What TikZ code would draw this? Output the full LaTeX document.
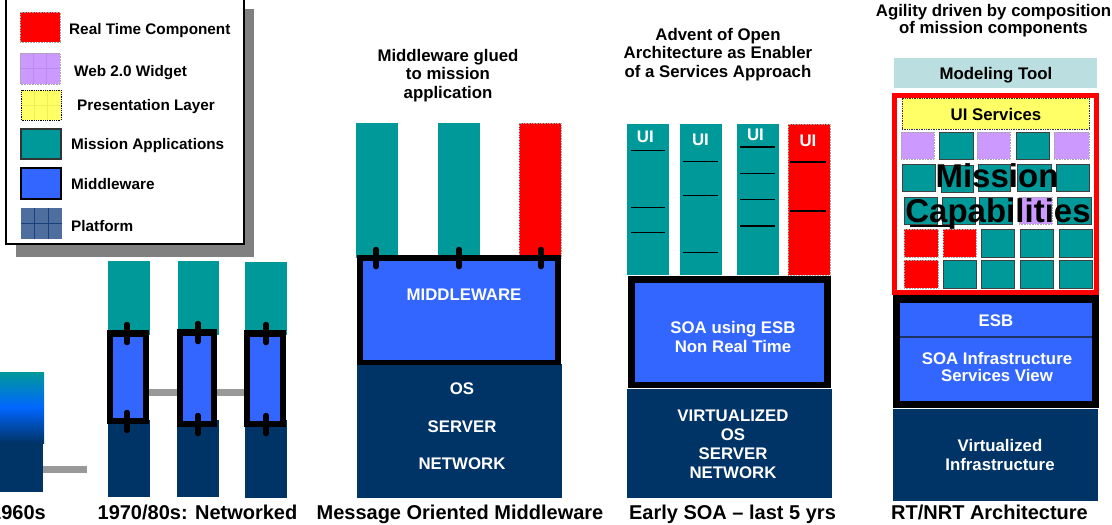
\documentclass[tikz,border=0pt]{standalone}
\usepackage{fontspec}
\setmainfont{Liberation Sans}
\definecolor{tealc}{HTML}{009999}
\definecolor{mwblue}{HTML}{3366FF}
\definecolor{brightblue}{HTML}{0066FF}
\definecolor{navyc}{HTML}{003366}
\definecolor{rtred}{HTML}{FF0000}
\definecolor{widget}{HTML}{CC99FF}
\definecolor{widgetline}{RGB}{186,140,240}
\definecolor{present}{HTML}{FFFF66}
\definecolor{presentline}{RGB}{238,238,90}
\definecolor{modtool}{HTML}{BBDFE1}
\definecolor{platc}{RGB}{78,110,158}
\definecolor{platline}{RGB}{25,65,125}
\definecolor{linkgray}{HTML}{999999}
\definecolor{shadowgray}{HTML}{808080}
\definecolor{esbline}{RGB}{30,50,100}

% box given by its corners: [style]{name}{x1}{y1}{x2}{y2}
\newcommand\areabox[6][]{%
  \node[inner sep=0pt, outer sep=0pt,
        minimum width={(#5-#3)*1pt}, minimum height={(#6-#4)*1pt}, #1]
        (#2) at ({(#3+#5)/2},{(#4+#6)/2}) {};}

\tikzset{
  lbl/.style={font=\fontsize{16.8}{18.7}\selectfont\bfseries, inner sep=0pt, anchor=base},
  wlbl/.style={lbl, text=white},
  era/.style={font=\fontsize{20}{22}\selectfont\bfseries, inner sep=0pt, anchor=base},
  legtxt/.style={font=\fontsize{15.3}{17}\selectfont\bfseries, inner sep=0pt, anchor=base west},
  bigtxt/.style={font=\fontsize{33}{36}\selectfont\bfseries, inner sep=0pt, anchor=base},
  app/.style={fill=tealc},
  rt/.style={fill=rtred, draw=gray!70, densely dotted, line width=0.6pt},
  wdg/.style={fill=widget, draw=gray!70, densely dotted, line width=0.6pt},
  cellapp/.style={fill=tealc, draw=black!75, line width=0.8pt},
  mwframe/.style={fill=black},
  mw/.style={fill=mwblue},
  plat/.style={fill=navyc},
  glue/.style={line width=5.5pt, line cap=round, black},
  link/.style={line width=7pt, linkgray},
  uiline/.style={line width=1.3pt, black},
}

\begin{document}
\begin{tikzpicture}[x=1pt,y=-1pt]
\useasboundingbox (0,0) rectangle (1112,525);

% ---------------- legend ----------------
\fill[shadowgray] (16,9) rectangle (254,257);
\areabox[fill=white, draw=black, line width=1.8pt]{legend}{6}{-3}{244}{244}
\areabox[rt]{lgrt}{20}{12}{60}{42}
\areabox[fill=widget]{lgwdg}{20}{53}{60}{84}
\draw[widgetline, line width=0.8pt] (33.3,53) -- (33.3,84) (46.7,53) -- (46.7,84) (20,68.5) -- (60,68.5);
\draw[gray!70, densely dotted, line width=0.6pt] (lgwdg.south west) rectangle (lgwdg.north east);
\areabox[fill=present]{lgpres}{21}{90}{61}{120}
\draw[presentline, line width=0.8pt] (34.3,90) -- (34.3,120) (47.7,90) -- (47.7,120) (21,105) -- (61,105);
\draw[black, densely dotted, line width=0.8pt] (lgpres.south west) rectangle (lgpres.north east);
\areabox[fill=tealc, draw=black!80, line width=1.2pt]{lgapp}{21}{129}{61}{159}
\areabox[fill=mwblue, draw=black, line width=1.6pt]{lgmw}{21}{168}{61}{199}
\areabox[fill=platc]{lgplat}{21}{208}{62}{239}
\draw[platline, line width=1pt] (34.7,208) -- (34.7,239) (48.3,208) -- (48.3,239) (21,223.5) -- (62,223.5);

\node[legtxt] (t-rt)   at (69,34.4)  {Real Time Component};
\node[legtxt] (t-wdg)  at (74,76.4)  {Web 2.0 Widget};
\node[legtxt] (t-pres) at (77,110.4) {Presentation Layer};
\node[legtxt] (t-app)  at (71,149.4) {Mission Applications};
\node[legtxt] (t-mw)   at (71,189.4) {Middleware};
\node[legtxt] (t-plat) at (71,231.4) {Platform};

% ---------------- 1960s ----------------
\areabox[top color=tealc, bottom color=navyc, middle color=brightblue]{m1960}{0}{372}{44}{443}
\areabox[plat]{p1960}{0}{443}{43}{492}
\coordinate (e1960) at (87,469.5);
\draw[link] (p1960.east |- e1960) -- (e1960);
\node[era, anchor=base east] (c1960) at (46,519.5) {1960s};

% ---------------- 1970/80s: networked ----------------
\areabox[app]{a1}{108}{261}{150}{335}
\areabox[app]{a2}{178}{261}{219}{335}
\areabox[app]{a3}{245}{262}{287}{335}
\areabox[plat]{p1}{108}{420}{150}{497}
\areabox[plat]{p2}{177}{420}{219}{497}
\areabox[plat]{p3}{245}{420}{287}{498}
\coordinate (lk) at (0,392.5);
\areabox[mwframe]{f1}{107}{330}{149}{424}
\areabox[mwframe]{f2}{177}{329}{217}{427}
\areabox[mwframe]{f3}{244}{330}{286}{427}
\draw[link] (f1.east |- lk) -- (f2.west |- lk);
\draw[link] (f2.east |- lk) -- (f3.west |- lk);
\areabox[mw]{m1}{113}{337}{143}{418}
\areabox[mw]{m2}{183}{336}{211}{421}
\areabox[mw]{m3}{250}{337}{280}{421}
\draw[glue] (127,324.5) -- (127,342.5) (127,412.5) -- (127,430.5);
\draw[glue] (198,323.5) -- (198,341.5) (198,415.5) -- (198,433.5);
\draw[glue] (266,324.5) -- (266,342.5) (266,415.5) -- (266,433.5);
\node[era] (c1970) at (197.5,519.5) {1970/80s: Networked};

% ---------------- message oriented middleware ----------------
\node[lbl] (mt1) at (448,61)   {Middleware glued};
\node[lbl] (mt2) at (448,79.5) {to mission};
\node[lbl] (mt3) at (448,98)   {application};
\areabox[app]{ma1}{356}{123}{398}{258}
\areabox[app]{ma2}{438}{123}{480}{258}
\areabox[rt]{ma3}{519}{123}{561}{258}
\areabox[plat]{mp}{357}{364}{562}{498}
\areabox[mwframe]{mf}{357}{255}{561}{365}
\areabox[mw]{mm}{363}{261}{555}{360}
\draw[glue] (376,249.5) -- (376,266.5) (459,249.5) -- (459,266.5) (541,249.5) -- (541,266.5);
\node[wlbl] (mmt) at (464,300) {MIDDLEWARE};
\node[wlbl] (mp1) at (462,394) {OS};
\node[wlbl] (mp2) at (462,432) {SERVER};
\node[wlbl] (mp3) at (462,469) {NETWORK};
\node[era] (cmom) at (460,519.5) {Message Oriented Middleware};

% ---------------- early SOA ----------------
\node[lbl] (st1) at (718,40)   {Advent of Open};
\node[lbl] (st2) at (718,58.7) {Architecture as Enabler};
\node[lbl] (st3) at (718,77.4) {of a Services Approach};
\areabox[app]{sa1}{627}{124}{669}{275}
\areabox[app]{sa2}{680}{124}{722}{275}
\areabox[app]{sa3}{737}{124}{779}{275}
\areabox[rt]{sa4}{788}{124}{830}{275}
\node[wlbl] (ui1) at (645.3,142.3) {UI};
\node[wlbl] (ui2) at (700.5,145)   {UI};
\node[wlbl] (ui3) at (755.5,140.7) {UI};
\node[wlbl] (ui4) at (808,146)     {UI};
\draw[uiline] (631,150.7) -- (665,150.7) (631,207.3) -- (665,207.3) (631,232.7) -- (665,232.7);
\draw[uiline] (683,161.7) -- (718,161.7) (683,195.3) -- (718,195.3) (683,252.3) -- (718,252.3);
\draw[uiline] (740,147) -- (775,147) (740,173.3) -- (775,173.3) (740,199.7) -- (775,199.7) (740,226) -- (775,226);
\draw[uiline] (790,162) -- (826,162) (790,211) -- (826,211);
\areabox[mwframe]{sf}{628}{276}{831}{388}
\areabox[mw]{sm}{635}{283}{824}{382}
\node[wlbl] (sm1) at (733,333) {SOA using ESB};
\node[wlbl] (sm2) at (733,352) {Non Real Time};
\areabox[plat]{sp}{627}{389}{832}{498}
\node[wlbl] (sp1) at (733,421.7) {VIRTUALIZED};
\node[wlbl] (sp2) at (733,440)   {OS};
\node[wlbl] (sp3) at (733,459)   {SERVER};
\node[wlbl] (sp4) at (733,478.3) {NETWORK};
\node[era] (csoa) at (732.5,519.5) {Early SOA -- last 5 yrs};

% ---------------- RT/NRT architecture ----------------
\node[lbl] (rt1) at (993.5,16.5) {Agility driven by composition};
\node[lbl] (rt2) at (993.5,33.5) {of mission components};
\areabox[fill=modtool]{tool}{894}{58}{1097}{88}
\node[lbl] (toolt) at (996,79) {Modeling Tool};
\areabox[fill=white, draw=rtred, line width=5pt]{caps}{894.5}{95.5}{1096.5}{292.5}
\areabox[fill=present, draw=black!80, densely dotted, line width=0.7pt]{uisv}{902}{98}{1089}{129}
\node[lbl] (uisvt) at (996,120) {UI Services};
% row 1
\areabox[wdg]{c11}{901}{132}{934}{159}
\areabox[cellapp]{c12}{939}{132}{973}{159}
\areabox[wdg]{c13}{977}{132}{1010}{159}
\areabox[cellapp]{c14}{1016}{132}{1049}{159}
\areabox[wdg]{c15}{1054}{132}{1089}{159}
% row 2
\areabox[cellapp]{c21}{902}{164}{935}{191}
\areabox[cellapp]{c22}{941}{165}{973}{192}
\areabox[cellapp]{c23}{978}{164}{1010}{191}
\areabox[cellapp]{c24}{1017}{164}{1051}{191}
\areabox[cellapp]{c25}{1056}{164}{1089}{191}
% row 3
\areabox[cellapp]{c31}{904}{197}{937}{224}
\areabox[cellapp]{c32}{942}{197}{975}{224}
\areabox[cellapp]{c33}{979}{197}{1012}{224}
\areabox[wdg]{c34}{1019}{197}{1052}{224}
\areabox[cellapp]{c35}{1057}{197}{1091}{224}
% row 4
\areabox[rt]{c41}{904}{229}{938}{257}
\areabox[rt]{c42}{943}{229}{976}{257}
\areabox[cellapp]{c43}{981}{229}{1014}{257}
\areabox[cellapp]{c44}{1020}{229}{1053}{257}
\areabox[cellapp]{c45}{1059}{229}{1092}{257}
% row 5
\areabox[rt]{c51}{904}{260}{938}{288}
\areabox[cellapp]{c52}{943}{260}{976}{288}
\areabox[cellapp]{c53}{981}{260}{1014}{288}
\areabox[cellapp]{c54}{1020}{260}{1053}{288}
\areabox[cellapp]{c55}{1059}{260}{1092}{288}
\node[bigtxt] (capt1) at (997,187) {Mission};
\node[bigtxt] (capt2) at (998,222) {Capabilities};
\draw[line width=1.2pt] (910,226) -- (953,226);

\areabox[mwframe]{rf}{893}{295}{1099}{408}
\areabox[mw]{resb}{900}{303}{1092}{337}
\areabox[mw]{rsoa}{900}{338}{1092}{401}
\draw[esbline, line width=1.5pt] (resb.south west) -- (resb.south east);
\node[wlbl] (resbt) at (996,326)   {ESB};
\node[wlbl] (rsoa1) at (997,364.3) {SOA Infrastructure};
\node[wlbl] (rsoa2) at (997,381.7) {Services View};
\areabox[plat]{rp}{893}{409}{1098}{501}
\node[wlbl] (rp1) at (1000,451.7) {Virtualized};
\node[wlbl] (rp2) at (1000,470)   {Infrastructure};
\node[era] (crt) at (989.5,519.5) {RT/NRT Architecture};
\end{tikzpicture}
\end{document}
